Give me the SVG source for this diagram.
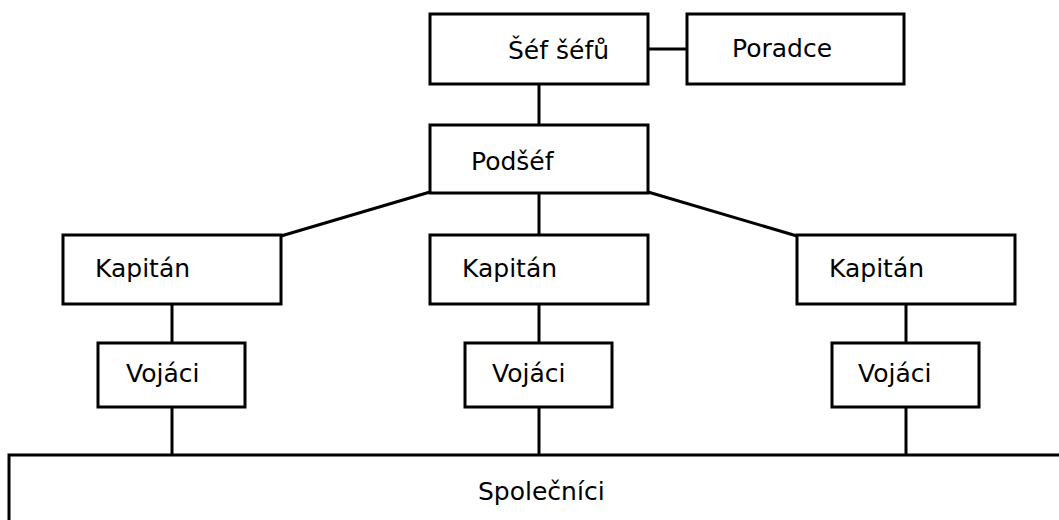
<svg xmlns="http://www.w3.org/2000/svg" width="1059" height="520" viewBox="0 0 1059 520">
<style>
.box{fill:#fff;stroke:#000;stroke-width:3}
.ln{stroke:#000;stroke-width:3;fill:none}
text{font-family:"DejaVu Sans",sans-serif;font-size:25px;fill:#000}
</style>
<rect width="1059" height="520" fill="#fff"/>
<g id="connectors">
<line class="ln" x1="648" y1="49" x2="687" y2="49"/>
<line class="ln" x1="539" y1="85" x2="539" y2="125"/>
<line class="ln" x1="430" y1="192" x2="281" y2="236"/>
<line class="ln" x1="648" y1="192" x2="797" y2="236"/>
<line class="ln" x1="539" y1="193" x2="539" y2="234"/>
<line class="ln" x1="172" y1="305" x2="172" y2="343"/>
<line class="ln" x1="539" y1="305" x2="539" y2="343"/>
<line class="ln" x1="906" y1="305" x2="906" y2="343"/>
<line class="ln" x1="172" y1="408" x2="172" y2="455"/>
<line class="ln" x1="539" y1="408" x2="539" y2="455"/>
<line class="ln" x1="906" y1="408" x2="906" y2="455"/>
</g>
<g id="sef"><rect class="box" x="430" y="14" width="218" height="70"/><text x="508" y="59">Šéf šéfů</text></g>
<g id="poradce"><rect class="box" x="687" y="14" width="217" height="70"/><text x="732" y="57">Poradce</text></g>
<g id="podsef"><rect class="box" x="430" y="125" width="218" height="68"/><text x="471" y="170">Podšéf</text></g>
<g id="kapitan1"><rect class="box" x="63" y="235" width="218" height="69"/><text x="95" y="277">Kapitán</text></g>
<g id="kapitan2"><rect class="box" x="430" y="235" width="218" height="69"/><text x="462" y="277">Kapitán</text></g>
<g id="kapitan3"><rect class="box" x="797" y="235" width="218" height="69"/><text x="829" y="277">Kapitán</text></g>
<g id="vojaci1"><rect class="box" x="98" y="343" width="147" height="64"/><text x="126" y="382">Vojáci</text></g>
<g id="vojaci2"><rect class="box" x="465" y="343" width="147" height="64"/><text x="492" y="382">Vojáci</text></g>
<g id="vojaci3"><rect class="box" x="832" y="343" width="147" height="64"/><text x="858" y="382">Vojáci</text></g>
<g id="spolecnici"><rect class="box" x="9" y="455" width="1060" height="80"/><text x="478" y="500">Společníci</text></g>
</svg>
